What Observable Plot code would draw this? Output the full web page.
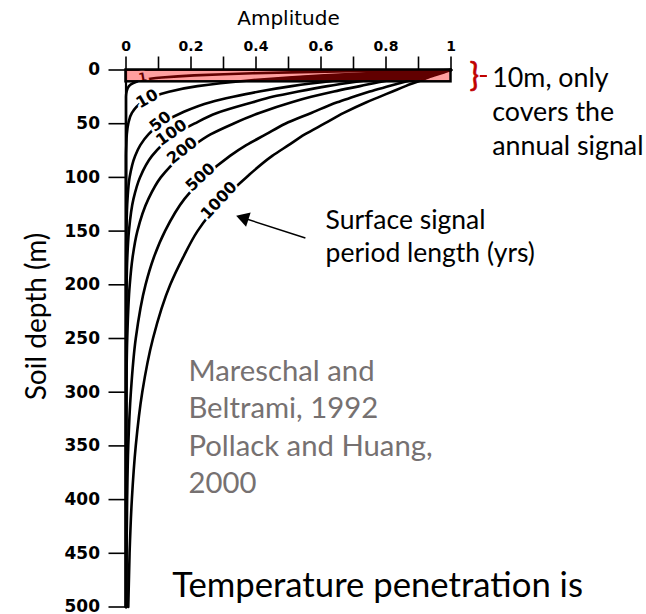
<!DOCTYPE html>
<html>
<head>
<meta charset="utf-8">
<script src="https://cdn.jsdelivr.net/npm/d3@7"></script>
<script src="https://cdn.jsdelivr.net/npm/@observablehq/plot@0.6"></script>
<style>
  html, body { margin: 0; padding: 0; background: white; }
  #chart { width: 646px; height: 614px; overflow: hidden; }
</style>
</head>
<body>
<div id="chart"></div>
<script>
const depths = [0,1,2,3,5,7,10,15,20,25,30,40,50,60,70,80,100,120,150,175,200,250,300,350,400,450,500];
// Amplitude read for each surface-signal period (years)
const amp1    = [1,0.73,0.54,0.39,0.21,0.11,0.044,0.009,0.002,0,0,0,0,0,0,0,0,0,0,0,0,0,0,0,0,0,0];
const amp10   = [1,0.90,0.82,0.74,0.61,0.50,0.37,0.22,0.135,0.082,0.05,0.018,0.007,0.0025,0.001,0,0,0,0,0,0,0,0,0,0,0,0];
const amp50   = [1,0.956,0.915,0.875,0.80,0.73,0.64,0.51,0.41,0.33,0.26,0.17,0.107,0.069,0.044,0.028,0.011,0.0047,0.0013,0.0004,0,0,0,0,0,0,0];
const amp100  = [1,0.969,0.939,0.91,0.854,0.80,0.73,0.62,0.53,0.45,0.39,0.28,0.21,0.15,0.11,0.08,0.043,0.023,0.009,0.004,0.0018,0.0004,0,0,0,0,0];
const amp200  = [1,0.978,0.956,0.935,0.894,0.855,0.80,0.72,0.64,0.57,0.51,0.41,0.33,0.26,0.21,0.17,0.107,0.069,0.035,0.020,0.0115,0.0038,0.0012,0.0004,0,0,0];
const amp500  = [1,0.986,0.972,0.959,0.932,0.906,0.87,0.81,0.75,0.70,0.65,0.57,0.49,0.43,0.37,0.32,0.24,0.18,0.12,0.085,0.06,0.03,0.015,0.007,0.0035,0.0017,0.0009];
const amp1000 = [1,0.99,0.98,0.97,0.95,0.93,0.905,0.86,0.82,0.78,0.74,0.67,0.61,0.55,0.50,0.45,0.37,0.30,0.22,0.175,0.136,0.083,0.05,0.03,0.018,0.011,0.007];

const periods = [1, 10, 50, 100, 200, 500, 1000];
const series = [amp1, amp10, amp50, amp100, amp200, amp500, amp1000];

// Curve label positions (amplitude, depth) and angles
const labelText  = ["1", "10", "50", "100", "200", "500", "1000"];
const labelAmp   = [0.051, 0.065, 0.106, 0.14, 0.173, 0.229, 0.286];
const labelDepth = [7, 26.8, 48, 58.5, 75, 99.8, 121.5];
const labelAngle = [-10, -30, -38, -35, -38, -43, -47];

// Axis ticks
const xTicks = [0, 0.1, 0.2, 0.3, 0.4, 0.5, 0.6, 0.7, 0.8, 0.9, 1];
const xTickLabels = [0, 0.2, 0.4, 0.6, 0.8, 1];
const yTicks = [0, 50, 100, 150, 200, 250, 300, 350, 400, 450, 500];

// Highlighted top layer (depth range in m)
const topLayer = [{x1: 0, x2: 1, y1: 0, y2: 11}];

const rows = [];
series.forEach((s, k) => s.forEach((a, i) => rows.push({period: periods[k], depth: depths[i], amp: a})));
const labels = labelText.map((t, i) => ({t, amp: labelAmp[i], depth: labelDepth[i], angle: labelAngle[i]}));
// dense bundle of curves inside the top layer
const bundle = depths.map((d, i) => ({depth: d, lo: amp10[i], hi: amp1000[i]})).filter(r => r.depth <= topLayer[0].y2);

const slideFont = "Lato, 'Open Sans', sans-serif";

const chart = Plot.plot({
  width: 646,
  height: 614,
  marginTop: 69.5,
  marginBottom: 7.5,
  marginLeft: 125.5,
  marginRight: 195.5,
  style: {fontFamily: "'DejaVu Sans', sans-serif", fontSize: "15px", background: "white", overflow: "visible"},
  x: {domain: [0, 1]},
  y: {domain: [0, 500], reverse: true},
  marks: [
    // axes
    Plot.axisX(xTicks, {anchor: "top", tickSize: 14, strokeWidth: 1.6, tickFormat: () => "", label: null}),
    Plot.axisX(xTickLabels, {anchor: "top", tickSize: 0, tickPadding: 19, fontSize: 14, fontWeight: "bold", tickFormat: d => String(d), label: null}),
    Plot.axisY(yTicks, {anchor: "left", tickSize: 17, tickPadding: 9, strokeWidth: 1.6, fontSize: 17, fontWeight: "bold", label: null}),
    Plot.ruleX([0], {y1: 0, y2: 500, strokeWidth: 2.2}),
    Plot.ruleY([0], {x1: 0, x2: 1, strokeWidth: 2}),
    // curves
    Plot.areaX(bundle, {y: "depth", x1: "lo", x2: "hi", curve: "monotone-y", fill: "black"}),
    Plot.line(rows, {x: "amp", y: "depth", z: "period", curve: "monotone-y", stroke: "black", strokeWidth: 2.6}),
    // curve labels
    Plot.text(labels, {x: "amp", y: "depth", text: "t", rotate: "angle", fontSize: d => d.t === "1" ? 12 : 16, fontWeight: "bold",
      fill: "black", stroke: "white", strokeWidth: 5, paintOrder: "stroke"}),
    // top layer overlay
    Plot.rect(topLayer, {x1: "x1", x2: "x2", y1: "y1", y2: "y2", fill: "red", fillOpacity: 0.38, stroke: "black", strokeWidth: 2.5}),
    // axis titles
    Plot.text(["Amplitude"], {x: 0.5, y: -48, fontSize: 20}),
    Plot.text(["Soil depth (m)"], {x: -0.275, y: 229.5, rotate: -90, fontSize: 28, fontFamily: slideFont}),
    // annotations
    Plot.text(["}"], {x: 1.072, y: 5.3, fill: "#c00000", stroke: "#c00000", strokeWidth: 0.6, fontSize: 32, fontFamily: slideFont}),
    Plot.ruleY([5.6], {x1: 1.09, x2: 1.112, stroke: "#c00000", strokeWidth: 2}),
    Plot.text(["10m, only\ncovers the\nannual signal"], {x: 1.127, y: 79.6, textAnchor: "start", lineAnchor: "bottom", lineHeight: 1.27, fontSize: 26.8, fontFamily: slideFont}),
    Plot.text(["Surface signal\nperiod length (yrs)"], {x: 0.614, y: 179.2, textAnchor: "start", lineAnchor: "bottom", lineHeight: 1.28, fontSize: 26.5, fontFamily: slideFont}),
    Plot.link([{x1: 0.552, y1: 156.4, x2: 0.364, y2: 138.1}], {x1: "x1", y1: "y1", x2: "x2", y2: "y2", stroke: "black", strokeWidth: 1.5}),
    Plot.dot([{x: 0.364, y: 138.1}], {x: "x", y: "y", symbol: "triangle", r: 5.5, rotate: -72, fill: "black", stroke: "none"}),
    Plot.text(["Mareschal and\nBeltrami, 1992\nPollack and Huang,\n2000"], {x: 0.192, y: 394, textAnchor: "start", lineAnchor: "bottom", lineHeight: 1.28, fontSize: 29.3, fill: "#767171", fontFamily: slideFont}),
    Plot.text(["Temperature penetration is"], {x: 0.142, y: 490.9, textAnchor: "start", lineAnchor: "bottom", fontSize: 34.7, fontFamily: slideFont})
  ]
});
document.getElementById("chart").appendChild(chart);
</script>
</body>
</html>
